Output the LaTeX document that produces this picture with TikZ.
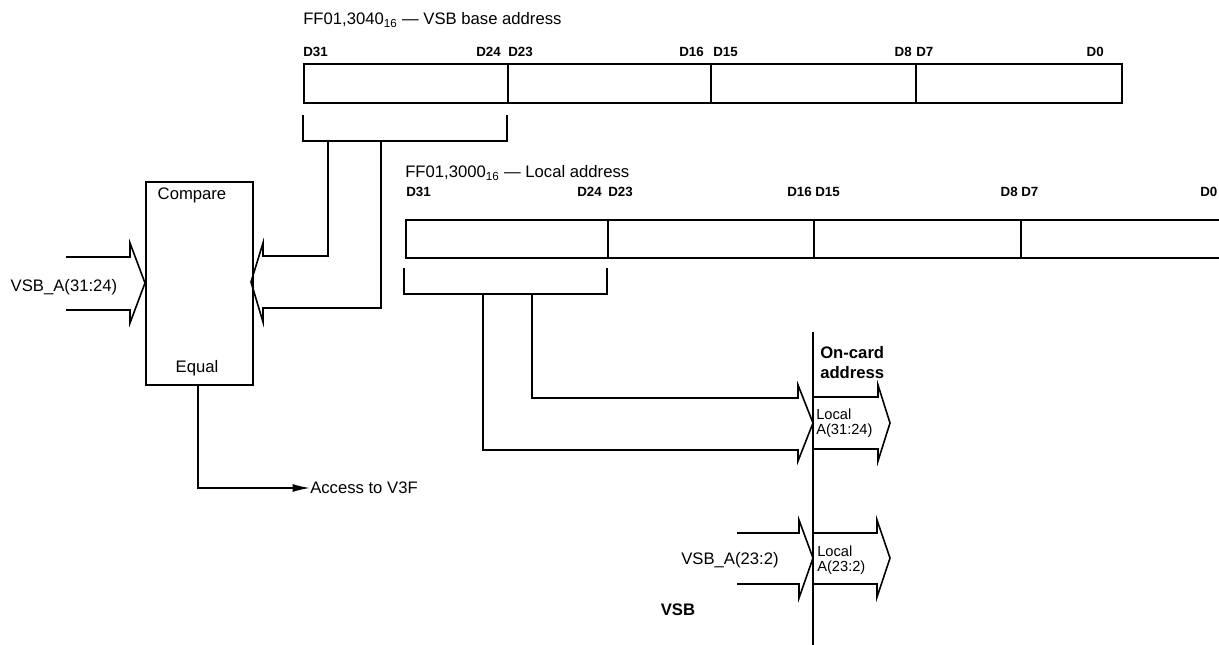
\documentclass[tikz,border=0pt]{standalone}
\usepackage{fontspec}
\setmainfont{Liberation Sans}
\usetikzlibrary{arrows.meta}
\tikzset{
  wire/.style={line width=1.2pt, line join=miter},
  cell/.style={draw, line width=1.2pt, anchor=north west, inner sep=0pt, minimum height=39*0.75pt},
  lcell/.style={draw, line width=1.2pt, anchor=north west, inner sep=0pt, minimum height=38*0.75pt},
  txt/.style={inner sep=0pt, font=\fontsize{12.5}{15}\selectfont},
  bitlbl/.style={inner sep=0pt, font=\fontsize{10}{12}\bfseries\selectfont},
  smalltxt/.style={inner sep=0pt, align=left, font=\fontsize{11}{11.3}\selectfont},
  boldtxt/.style={inner sep=0pt, align=left, font=\fontsize{12.5}{15}\bfseries\selectfont},
  outarrow/.style={wire, -{Latex[length=13pt,width=6pt]}}
}
\begin{document}
\begin{tikzpicture}[x=0.75pt,y=-0.75pt]
\useasboundingbox (0,0) rectangle (1219,645);
\clip (0,0) rectangle (1219,645);

% ---------- VSB base address register ----------
\node[txt, anchor=west] (t1) at (303,20) {FF01,3040\textsubscript{16} --- VSB base address};
\node[cell, minimum width=204*0.75pt] (b1) at (303,63) {};
\node[cell, minimum width=203*0.75pt] (b2) at (507,63) {};
\node[cell, minimum width=205*0.75pt] (b3) at (710,63) {};
\node[cell, minimum width=206*0.75pt] (b4) at (915,63) {};
\node[bitlbl, anchor=west] (bl31) at (303,52) {D31};
\node[bitlbl, anchor=east] (bl24) at (501,52) {D24};
\node[bitlbl, anchor=west] (bl23) at (508,52) {D23};
\node[bitlbl, anchor=east] (bl16) at (704,52) {D16};
\node[bitlbl, anchor=west] (bl15) at (713,52) {D15};
\node[bitlbl, anchor=east] (bl8) at (912,52) {D8};
\node[bitlbl, anchor=west] (bl7) at (916,52) {D7};
\node[bitlbl, anchor=east] (bl0) at (1104,52) {D0};

% bracket under D31-D24
\coordinate (bk1a) at (303,115);
\coordinate (bk1b) at (303,141);
\coordinate (bk1c) at (507,141);
\coordinate (bk1d) at (507,115);
\draw[wire] (bk1a) -- (bk1b) -- (bk1c) -- (bk1d);
\coordinate (s1) at (328,141);
\coordinate (s2) at (381,141);

% ---------- Compare box ----------
\node[draw, line width=1.2pt, anchor=north west, inner sep=0pt,
      minimum width=107*0.75pt, minimum height=203*0.75pt] (cmp) at (145,181) {};
\node[txt] (cmpt) at (192,195) {Compare};
\node[txt] (eqt) at (197,368) {Equal};
\node[txt] (vsba) at (64,287) {VSB\_A(31:24)};

% left bus into compare
\draw[wire] (66,257) -- (130,257) -- (130,243) -- (145,283) -- (130,323) -- (130,310) -- (66,310);
% right bus into compare from base register
\draw[wire] (s1) -- (328,256) -- (263,256) -- (263,243) -- (251,282) -- (263,322) -- (263,308) -- (381,308) -- (s2);

% Equal output
\coordinate (eqo) at (198,384);
\node[txt, anchor=west] (acc) at (310,488) {Access to V3F};
\draw[outarrow] (eqo) -- (198,488) -- (acc.west);

% ---------- Local address register ----------
\node[txt, anchor=west] (t2) at (405,173) {FF01,3000\textsubscript{16} --- Local address};
\node[lcell, minimum width=202*0.75pt] (l1) at (405,219) {};
\node[lcell, minimum width=206*0.75pt] (l2) at (607,219) {};
\node[lcell, minimum width=207*0.75pt] (l3) at (813,219) {};
\node[lcell, minimum width=215*0.75pt] (l4) at (1020,219) {};
\node[bitlbl, anchor=west] (ll31) at (406,192) {D31};
\node[bitlbl, anchor=east] (ll24) at (602,192) {D24};
\node[bitlbl, anchor=west] (ll23) at (608,192) {D23};
\node[bitlbl, anchor=east] (ll16) at (812,192) {D16};
\node[bitlbl, anchor=west] (ll15) at (815,192) {D15};
\node[bitlbl, anchor=east] (ll8) at (1018,192) {D8};
\node[bitlbl, anchor=west] (ll7) at (1021,192) {D7};
\node[bitlbl, anchor=west] (ll0) at (1200,192) {D0};

% bracket under D31-D24
\coordinate (bk2a) at (404,268);
\coordinate (bk2b) at (404,294);
\coordinate (bk2c) at (607,294);
\coordinate (bk2d) at (607,268);
\draw[wire] (bk2a) -- (bk2b) -- (bk2c) -- (bk2d);
\coordinate (s3) at (483,294);
\coordinate (s4) at (532,294);

% ---------- On-card boundary ----------
\coordinate (vtop) at (813,332);
\coordinate (vbot) at (813,645);
\draw[wire] (vtop) -- (vbot);
\node[boldtxt, anchor=west] (onc) at (820,363) {On-card\\address};

% Local A(31:24) bus
\draw[wire] (s4) -- (532,398) -- (798,398) -- (798,385) -- (813,423) -- (798,461) -- (798,450) -- (483,450) -- (s3);
\draw[wire] (813,397) -- (878,397) -- (878,385) -- (890,423) -- (878,461) -- (878,449) -- (813,449);
\node[smalltxt, anchor=west] (la1) at (816,423) {Local\\A(31:24)};

% Local A(23:2) bus
\draw[wire] (737,533) -- (799,533) -- (799,520) -- (813,558) -- (799,598) -- (799,584) -- (737,584);
\draw[wire] (813,533) -- (877,533) -- (877,520) -- (890,558) -- (877,597) -- (877,584) -- (813,584);
\node[txt] (vsbb) at (730,560) {VSB\_A(23:2)};
\node[smalltxt, anchor=west] (la2) at (817,560) {Local\\A(23:2)};
\node[boldtxt] (vsb) at (678,610) {VSB};
\end{tikzpicture}
\end{document}
